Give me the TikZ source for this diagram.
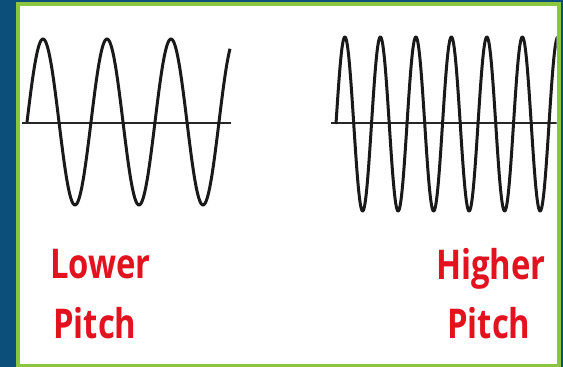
\documentclass[tikz,border=0pt]{standalone}
\usepackage{fontspec}
\newfontfamily\labfont[FakeStretch=0.8]{Open Sans}
\definecolor{bgblue}{HTML}{0B4F7A}
\definecolor{frgreen}{HTML}{8CC63F}
\definecolor{labred}{HTML}{E3121F}
\tikzset{
  wave/.style={line width=3pt, black!90, line join=round},
  axis/.style={line width=2pt, black!85},
  lab/.style={text=labred, font=\labfont\bfseries\fontsize{41}{41}\selectfont, inner sep=0pt}
}
\begin{document}
\begin{tikzpicture}[x=1pt,y=-1pt]
  \fill[bgblue] (0,0) rectangle (563,367);
  \useasboundingbox (0,0) rectangle (563,367);
  \fill[frgreen] (16,2) rectangle (561,367);
  \fill[white] (20,6) rectangle (556.5,364);
  % left wave
  \draw[axis] (22,122.5) -- (231,122.5);
  \draw[wave] plot[domain=27:230,samples=300,smooth] (\x,{122-83*sin(5.625*(\x-27))});
  % right wave
  \begin{scope}
    \clip (20,6) rectangle (556.5,364);
    \draw[axis] (331,122.5) -- (557,122.5);
    \draw[wave] plot[domain=336:560,samples=500,smooth] (\x,{124-87*sin(10.1408*(\x-336))});
  \end{scope}
  % labels
  \node[lab, anchor=base west] (lower) at (50,278) {Lower};
  \node[lab, anchor=base west] (pitchl) at (53,338) {Pitch};
  \node[lab, anchor=base west] (higher) at (436,279) {Higher};
  \node[lab, anchor=base west] (pitchr) at (447,338) {Pitch};
\end{tikzpicture}
\end{document}
